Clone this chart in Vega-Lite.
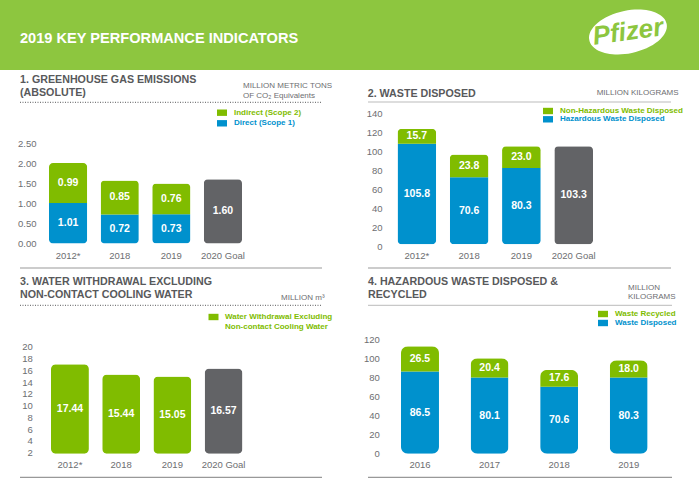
{
  "$schema": "https://vega.github.io/schema/vega-lite/v6.json",
  "padding": 0,
  "background": "white",
  "spacing": 0,
  "config": {
    "font": "Liberation Sans",
    "view": {"stroke": null},
    "axis": {"domain": false, "ticks": false, "grid": false, "title": null, "labelFont": "Liberation Sans", "labelFontSize": 9.5, "labelColor": "#6D6E71", "labelPadding": 0, "labelOverlap": false},
    "axisX": {"labelAngle": 0, "labelBaseline": "top"},
    "legend": {"title": null, "orient": "none", "padding": 0, "labelFont": "Liberation Sans", "labelFontSize": 8, "labelFontWeight": "bold", "symbolType": "M-1.25,-0.8H1.25V0.8H-1.25Z", "symbolSize": 64, "symbolStrokeWidth": 0, "labelOffset": 8}
  },
  "resolve": {"scale": {"color": "independent", "strokeDash": "independent"}},
  "vconcat": [
    {
      "width": 699,
      "height": 70,
      "view": {"fill": "#8DC63F", "stroke": null},
      "encoding": {
        "x": {"field": "item", "type": "nominal", "scale": {"domain": ["heading", "logo"], "range": [20, 628], "padding": 0}, "axis": null},
        "y": {"field": "item", "type": "nominal", "scale": {"domain": ["heading", "logo"], "range": [38.7, 32], "padding": 0}, "axis": null}
      },
      "layer": [
        {
          "data": {"values": [{"item": "heading", "text": "2019 KEY PERFORMANCE INDICATORS"}]},
          "mark": {"type": "text", "align": "left", "fontSize": 14.6, "fontWeight": "bold", "color": "white"},
          "encoding": {"text": {"field": "text"}}
        },
        {
          "data": {"values": [{"item": "logo"}]},
          "mark": {"type": "point", "filled": true, "opacity": 1, "color": "white", "size": 6241, "shape": "M-0.98,0.2A1,0.54,-12,1,1,0.98,-0.2A1,0.54,-12,1,1,-0.98,0.2Z"}
        },
        {
          "data": {"values": [{"item": "logo", "text": "Pfizer"}]},
          "mark": {"type": "text", "fontSize": 26, "fontWeight": "bold", "fontStyle": "italic", "angle": 352, "color": "#8DC63F"},
          "encoding": {"text": {"field": "text"}}
        }
      ]
    },
    {
      "spacing": 0,
      "resolve": {"scale": {"color": "independent", "strokeDash": "independent"}},
      "hconcat": [
        {
          "width": 350,
          "height": 200,
          "resolve": {"scale": {"x": "independent", "y": "independent"}},
          "layer": [
            {
              "data": {"values": [
                {"year": "2012*", "series": "Direct (Scope 1)", "rank": 1, "value": 1.01},
                {"year": "2012*", "series": "Indirect (Scope 2)", "rank": 2, "value": 0.99},
                {"year": "2018", "series": "Direct (Scope 1)", "rank": 1, "value": 0.72},
                {"year": "2018", "series": "Indirect (Scope 2)", "rank": 2, "value": 0.85},
                {"year": "2019", "series": "Direct (Scope 1)", "rank": 1, "value": 0.73},
                {"year": "2019", "series": "Indirect (Scope 2)", "rank": 2, "value": 0.76},
                {"year": "2020 Goal", "series": "2020 Goal", "rank": 1, "value": 1.6}
              ]},
              "encoding": {
                "x": {"field": "year", "type": "nominal", "scale": {"domain": ["2012*", "2018", "2019", "2020 Goal"], "range": [49, 242], "paddingInner": 0.26, "paddingOuter": 0}, "axis": {"orient": "bottom", "offset": -20}},
                "order": {"field": "rank", "type": "quantitative"}
              },
              "layer": [
                {
                  "mark": {"type": "bar",
                    "cornerRadiusTopLeft": {"expr": "datum.series == 'Direct (Scope 1)' ? 0 : 4"},
                    "cornerRadiusTopRight": {"expr": "datum.series == 'Direct (Scope 1)' ? 0 : 4"},
                    "cornerRadiusBottomLeft": {"expr": "datum.series == 'Indirect (Scope 2)' ? 0 : 4"},
                    "cornerRadiusBottomRight": {"expr": "datum.series == 'Indirect (Scope 2)' ? 0 : 4"}},
                  "encoding": {
                    "y": {"field": "value", "type": "quantitative", "stack": "zero", "scale": {"domain": [0, 2.5], "range": [173.5, 69]}, "axis": {"orient": "left", "offset": -36, "values": [0, 0.5, 1, 1.5, 2, 2.5], "format": ".2f"}},
                    "color": {"field": "series", "type": "nominal", "scale": {"domain": ["Indirect (Scope 2)", "Direct (Scope 1)", "2020 Goal"], "range": ["#80BC00", "#0091CD", "#626366"]},
                      "legend": {"values": ["Indirect (Scope 2)", "Direct (Scope 1)"], "legendX": 218, "legendY": 38.7, "rowPadding": 2.6,
                        "encode": {"labels": {"update": {"fill": {"signal": "datum.label == 'Direct (Scope 1)' ? '#0091CD' : '#80BC00'"}}}}}}
                  }
                },
                {
                  "mark": {"type": "text", "color": "white", "fontWeight": "bold", "fontSize": 10.5},
                  "encoding": {
                    "y": {"field": "value", "type": "quantitative", "stack": "zero", "bandPosition": 0.5, "axis": {"orient": "left", "offset": -36, "values": [0, 0.5, 1, 1.5, 2, 2.5], "format": ".2f"}},
                    "detail": {"field": "series"},
                    "text": {"field": "value", "type": "quantitative", "format": ".2f"}
                  }
                }
              ]
            },
            {
              "data": {"values": [{"block": "title", "line": "1", "text": "1. GREENHOUSE GAS EMISSIONS"}, {"block": "title", "line": "2", "text": "(ABSOLUTE)"}]},
              "mark": {"type": "text", "align": "left", "fontWeight": "bold", "fontSize": 10.7, "color": "#58595B"},
              "encoding": {
                "x": {"field": "block", "type": "nominal", "scale": {"domain": ["title", "unit"], "range": [20, 243], "padding": 0}, "axis": null},
                "y": {"field": "line", "type": "nominal", "scale": {"domain": ["1", "2"], "range": [10, 23.3], "padding": 0}, "axis": null},
                "text": {"field": "text"}
              }
            },
            {
              "data": {"values": [{"block": "unit", "line": "1", "text": "MILLION METRIC TONS"}, {"block": "unit", "line": "2", "text": "OF CO₂ Equivalents"}]},
              "mark": {"type": "text", "align": "left", "fontSize": 8, "color": "#6D6E71"},
              "encoding": {
                "x": {"field": "block", "type": "nominal", "scale": {"domain": ["title", "unit"], "range": [20, 243], "padding": 0}, "axis": null},
                "y": {"field": "line", "type": "nominal", "scale": {"domain": ["1", "2"], "range": [16, 26], "padding": 0}, "axis": null},
                "text": {"field": "text"}
              }
            },
            {
              "data": {"values": [{"line": "top", "from": "left", "to": "right"}, {"line": "bottom", "from": "left", "to": "right"}]},
              "mark": {"type": "rule", "stroke": {"expr": "datum.line == 'top' ? '#58595B' : '#999999'"}, "strokeWidth": {"expr": "datum.line == 'top' ? 1 : 1.2"}},
              "encoding": {
                "x": {"field": "from", "type": "nominal", "scale": {"type": "point", "domain": ["left", "right"], "range": [20, 322], "padding": 0}, "axis": null},
                "x2": {"field": "to"},
                "y": {"field": "line", "type": "nominal", "scale": {"type": "point", "domain": ["top", "bottom"], "range": [32.3, 198], "padding": 0}, "axis": null},
                "strokeDash": {"field": "line", "type": "nominal", "scale": {"domain": ["top", "bottom"], "range": [[1, 1.5], [1, 0]]}, "legend": null}
              }
            }
          ]
        },
        {
          "width": 349,
          "height": 200,
          "resolve": {"scale": {"x": "independent", "y": "independent"}},
          "layer": [
            {
              "data": {"values": [
                {"year": "2012*", "series": "Hazardous Waste Disposed", "rank": 1, "value": 105.8},
                {"year": "2012*", "series": "Non-Hazardous Waste Disposed", "rank": 2, "value": 15.7},
                {"year": "2018", "series": "Hazardous Waste Disposed", "rank": 1, "value": 70.6},
                {"year": "2018", "series": "Non-Hazardous Waste Disposed", "rank": 2, "value": 23.8},
                {"year": "2019", "series": "Hazardous Waste Disposed", "rank": 1, "value": 80.3},
                {"year": "2019", "series": "Non-Hazardous Waste Disposed", "rank": 2, "value": 23.0},
                {"year": "2020 Goal", "series": "2020 Goal", "rank": 1, "value": 103.3}
              ]},
              "encoding": {
                "x": {"field": "year", "type": "nominal", "scale": {"domain": ["2012*", "2018", "2019", "2020 Goal"], "range": [47.5, 243], "paddingInner": 0.26, "paddingOuter": 0}, "axis": {"orient": "bottom", "offset": -19.5}},
                "order": {"field": "rank", "type": "quantitative"}
              },
              "layer": [
                {
                  "mark": {"type": "bar",
                    "cornerRadiusTopLeft": {"expr": "datum.series == 'Hazardous Waste Disposed' ? 0 : 4"},
                    "cornerRadiusTopRight": {"expr": "datum.series == 'Hazardous Waste Disposed' ? 0 : 4"},
                    "cornerRadiusBottomLeft": {"expr": "datum.series == 'Non-Hazardous Waste Disposed' ? 0 : 4"},
                    "cornerRadiusBottomRight": {"expr": "datum.series == 'Non-Hazardous Waste Disposed' ? 0 : 4"}},
                  "encoding": {
                    "y": {"field": "value", "type": "quantitative", "stack": "zero", "scale": {"domain": [0, 140], "range": [174.3, 41.3]}, "axis": {"orient": "left", "offset": -32, "labelOffset": 2, "values": [0, 20, 40, 60, 80, 100, 120, 140]}},
                    "color": {"field": "series", "type": "nominal", "scale": {"domain": ["Non-Hazardous Waste Disposed", "Hazardous Waste Disposed", "2020 Goal"], "range": ["#80BC00", "#0091CD", "#626366"]},
                      "legend": {"values": ["Non-Hazardous Waste Disposed", "Hazardous Waste Disposed"], "legendX": 194, "legendY": 37, "rowPadding": 0.3,
                        "encode": {"labels": {"update": {"fill": {"signal": "datum.label == 'Hazardous Waste Disposed' ? '#0091CD' : '#80BC00'"}}}}}}
                  }
                },
                {
                  "mark": {"type": "text", "color": "white", "fontWeight": "bold", "fontSize": 10.5},
                  "encoding": {
                    "y": {"field": "value", "type": "quantitative", "stack": "zero", "bandPosition": 0.5, "axis": {"orient": "left", "offset": -32, "labelOffset": 2, "values": [0, 20, 40, 60, 80, 100, 120, 140]}},
                    "detail": {"field": "series"},
                    "text": {"field": "value", "type": "quantitative", "format": ".1f"}
                  }
                }
              ]
            },
            {
              "data": {"values": [{"block": "title", "line": "1", "text": "2. WASTE DISPOSED"}]},
              "mark": {"type": "text", "align": "left", "fontWeight": "bold", "fontSize": 10.7, "color": "#58595B"},
              "encoding": {
                "x": {"field": "block", "type": "nominal", "scale": {"domain": ["title", "unit"], "range": [17.7, 246.7], "padding": 0}, "axis": null},
                "y": {"field": "line", "type": "nominal", "scale": {"domain": ["1", "2"], "range": [24, 37], "padding": 0}, "axis": null},
                "text": {"field": "text"}
              }
            },
            {
              "data": {"values": [{"block": "unit", "line": "1", "text": "MILLION KILOGRAMS"}]},
              "mark": {"type": "text", "align": "left", "fontSize": 8, "color": "#6D6E71"},
              "encoding": {
                "x": {"field": "block", "type": "nominal", "scale": {"domain": ["title", "unit"], "range": [17.7, 246.7], "padding": 0}, "axis": null},
                "y": {"field": "line", "type": "nominal", "scale": {"domain": ["1", "2"], "range": [23, 33], "padding": 0}, "axis": null},
                "text": {"field": "text"}
              }
            },
            {
              "data": {"values": [{"line": "top", "from": "left", "to": "right"}, {"line": "bottom", "from": "left", "to": "right"}]},
              "mark": {"type": "rule", "stroke": {"expr": "datum.line == 'top' ? '#BBBBBB' : '#999999'"}, "strokeWidth": {"expr": "datum.line == 'top' ? 1 : 1.2"}},
              "encoding": {
                "x": {"field": "from", "type": "nominal", "scale": {"type": "point", "domain": ["left", "right"], "range": [18, 321], "padding": 0}, "axis": null},
                "x2": {"field": "to"},
                "y": {"field": "line", "type": "nominal", "scale": {"type": "point", "domain": ["top", "bottom"], "range": [32, 198], "padding": 0}, "axis": null}
              }
            }
          ]
        }
      ]
    },
    {
      "spacing": 0,
      "resolve": {"scale": {"color": "independent", "strokeDash": "independent"}},
      "hconcat": [
        {
          "width": 350,
          "height": 215,
          "resolve": {"scale": {"x": "independent", "y": "independent"}},
          "layer": [
            {
              "data": {"values": [
                {"year": "2012*", "series": "Water Withdrawal Excluding|Non-contact Cooling Water", "value": 17.44},
                {"year": "2018", "series": "Water Withdrawal Excluding|Non-contact Cooling Water", "value": 15.44},
                {"year": "2019", "series": "Water Withdrawal Excluding|Non-contact Cooling Water", "value": 15.05},
                {"year": "2020 Goal", "series": "2020 Goal", "value": 16.57}
              ]},
              "encoding": {
                "x": {"field": "year", "type": "nominal", "scale": {"domain": ["2012*", "2018", "2019", "2020 Goal"], "range": [51, 242.5], "paddingInner": 0.26, "paddingOuter": 0}, "axis": {"orient": "bottom", "offset": -25.5}}
              },
              "layer": [
                {
                  "mark": {"type": "bar", "cornerRadius": 5},
                  "encoding": {
                    "y": {"field": "value", "type": "quantitative", "stack": "zero", "scale": {"domain": [0, 20], "range": [183.7, 81]}, "axis": null},
                    "color": {"field": "series", "type": "nominal", "scale": {"domain": ["Water Withdrawal Excluding|Non-contact Cooling Water", "2020 Goal"], "range": ["#80BC00", "#626366"]},
                      "legend": {"values": ["Water Withdrawal Excluding|Non-contact Cooling Water"], "legendX": 209.5, "legendY": 43, "labelOffset": 7.5, "labelExpr": "split(datum.label, '|')", "labelBaseline": "top",
                        "encode": {"labels": {"update": {"fill": {"value": "#80BC00"}, "dy": {"value": -4}}}}}}
                  }
                },
                {
                  "mark": {"type": "text", "color": "white", "fontWeight": "bold", "fontSize": 10.5},
                  "encoding": {
                    "y": {"field": "value", "type": "quantitative", "stack": "zero", "bandPosition": 0.5, "axis": null},
                    "detail": {"field": "series"},
                    "text": {"field": "value", "type": "quantitative", "format": ".2f"}
                  }
                }
              ]
            },
            {
              "data": {"values": [{"tick": 2}, {"tick": 20}]},
              "mark": {"type": "point", "opacity": 0},
              "encoding": {
                "y": {"field": "tick", "type": "quantitative", "scale": {"domain": [2, 20], "range": [182.7, 76.7]}, "axis": {"orient": "left", "offset": -32.3, "values": [2, 4, 6, 8, 10, 12, 14, 16, 18, 20]}}
              }
            },
            {
              "data": {"values": [{"block": "title", "line": "1", "text": "3. WATER WITHDRAWAL EXCLUDING"}, {"block": "title", "line": "2", "text": "NON-CONTACT COOLING WATER"}]},
              "mark": {"type": "text", "align": "left", "fontWeight": "bold", "fontSize": 10.7, "color": "#58595B"},
              "encoding": {
                "x": {"field": "block", "type": "nominal", "scale": {"domain": ["title", "unit"], "range": [20, 281], "padding": 0}, "axis": null},
                "y": {"field": "line", "type": "nominal", "scale": {"domain": ["1", "2"], "range": [12, 25], "padding": 0}, "axis": null},
                "text": {"field": "text"}
              }
            },
            {
              "data": {"values": [{"block": "unit", "line": "1", "text": "MILLION m³"}]},
              "mark": {"type": "text", "align": "left", "fontSize": 8, "color": "#6D6E71"},
              "encoding": {
                "x": {"field": "block", "type": "nominal", "scale": {"domain": ["title", "unit"], "range": [20, 281], "padding": 0}, "axis": null},
                "y": {"field": "line", "type": "nominal", "scale": {"domain": ["1", "2"], "range": [28, 38], "padding": 0}, "axis": null},
                "text": {"field": "text"}
              }
            },
            {
              "data": {"values": [{"line": "top", "from": "left", "to": "right"}, {"line": "bottom", "from": "left", "to": "right"}]},
              "mark": {"type": "rule", "stroke": {"expr": "datum.line == 'top' ? '#58595B' : '#999999'"}, "strokeWidth": {"expr": "datum.line == 'top' ? 1 : 1.2"}},
              "encoding": {
                "x": {"field": "from", "type": "nominal", "scale": {"type": "point", "domain": ["left", "right"], "range": [20, 322], "padding": 0}, "axis": null},
                "x2": {"field": "to"},
                "y": {"field": "line", "type": "nominal", "scale": {"type": "point", "domain": ["top", "bottom"], "range": [35.3, 207.3], "padding": 0}, "axis": null},
                "strokeDash": {"field": "line", "type": "nominal", "scale": {"domain": ["top", "bottom"], "range": [[1, 1.5], [1, 0]]}, "legend": null}
              }
            }
          ]
        },
        {
          "width": 349,
          "height": 215,
          "resolve": {"scale": {"x": "independent", "y": "independent"}},
          "layer": [
            {
              "data": {"values": [
                {"year": "2016", "series": "Waste Disposed", "rank": 1, "value": 86.5},
                {"year": "2016", "series": "Waste Recycled", "rank": 2, "value": 26.5},
                {"year": "2017", "series": "Waste Disposed", "rank": 1, "value": 80.1},
                {"year": "2017", "series": "Waste Recycled", "rank": 2, "value": 20.4},
                {"year": "2018", "series": "Waste Disposed", "rank": 1, "value": 70.6},
                {"year": "2018", "series": "Waste Recycled", "rank": 2, "value": 17.6},
                {"year": "2019", "series": "Waste Disposed", "rank": 1, "value": 80.3},
                {"year": "2019", "series": "Waste Recycled", "rank": 2, "value": 18.0}
              ]},
              "encoding": {
                "x": {"field": "year", "type": "nominal", "scale": {"domain": ["2016", "2017", "2018", "2019"], "range": [51, 297.7], "paddingInner": 0.454, "paddingOuter": 0}, "axis": {"orient": "bottom", "offset": -25.5}},
                "order": {"field": "rank", "type": "quantitative"}
              },
              "layer": [
                {
                  "mark": {"type": "bar",
                    "cornerRadiusTopLeft": {"expr": "datum.series == 'Waste Disposed' ? 0 : 7"},
                    "cornerRadiusTopRight": {"expr": "datum.series == 'Waste Disposed' ? 0 : 7"},
                    "cornerRadiusBottomLeft": {"expr": "datum.series == 'Waste Recycled' ? 0 : 7"},
                    "cornerRadiusBottomRight": {"expr": "datum.series == 'Waste Recycled' ? 0 : 7"}},
                  "encoding": {
                    "y": {"field": "value", "type": "quantitative", "stack": "zero", "scale": {"domain": [0, 120], "range": [183.7, 69.7]}, "axis": {"orient": "left", "offset": -29.3, "values": [0, 20, 40, 60, 80, 100, 120]}},
                    "color": {"field": "series", "type": "nominal", "scale": {"domain": ["Waste Recycled", "Waste Disposed"], "range": ["#80BC00", "#0091CD"]},
                      "legend": {"values": ["Waste Recycled", "Waste Disposed"], "legendX": 249, "legendY": 40, "rowPadding": 1,
                        "encode": {"labels": {"update": {"fill": {"signal": "datum.label == 'Waste Disposed' ? '#0091CD' : '#80BC00'"}}}}}}
                  }
                },
                {
                  "mark": {"type": "text", "color": "white", "fontWeight": "bold", "fontSize": 10.5},
                  "encoding": {
                    "y": {"field": "value", "type": "quantitative", "stack": "zero", "bandPosition": 0.5, "axis": {"orient": "left", "offset": -29.3, "values": [0, 20, 40, 60, 80, 100, 120]}},
                    "detail": {"field": "series"},
                    "text": {"field": "value", "type": "quantitative", "format": ".1f"}
                  }
                }
              ]
            },
            {
              "data": {"values": [{"block": "title", "line": "1", "text": "4. HAZARDOUS WASTE DISPOSED &"}, {"block": "title", "line": "2", "text": "RECYCLED"}]},
              "mark": {"type": "text", "align": "left", "fontWeight": "bold", "fontSize": 10.7, "color": "#58595B"},
              "encoding": {
                "x": {"field": "block", "type": "nominal", "scale": {"domain": ["title", "unit"], "range": [18, 278], "padding": 0}, "axis": null},
                "y": {"field": "line", "type": "nominal", "scale": {"domain": ["1", "2"], "range": [12, 25], "padding": 0}, "axis": null},
                "text": {"field": "text"}
              }
            },
            {
              "data": {"values": [{"block": "unit", "line": "1", "text": "MILLION"}, {"block": "unit", "line": "2", "text": "KILOGRAMS"}]},
              "mark": {"type": "text", "align": "left", "fontSize": 8, "color": "#6D6E71"},
              "encoding": {
                "x": {"field": "block", "type": "nominal", "scale": {"domain": ["title", "unit"], "range": [18, 278], "padding": 0}, "axis": null},
                "y": {"field": "line", "type": "nominal", "scale": {"domain": ["1", "2"], "range": [18, 27], "padding": 0}, "axis": null},
                "text": {"field": "text"}
              }
            },
            {
              "data": {"values": [{"line": "top", "from": "left", "to": "right"}, {"line": "bottom", "from": "left", "to": "right"}]},
              "mark": {"type": "rule", "stroke": {"expr": "datum.line == 'top' ? '#BBBBBB' : '#999999'"}, "strokeWidth": {"expr": "datum.line == 'top' ? 1 : 1.2"}},
              "encoding": {
                "x": {"field": "from", "type": "nominal", "scale": {"type": "point", "domain": ["left", "right"], "range": [18, 322], "padding": 0}, "axis": null},
                "x2": {"field": "to"},
                "y": {"field": "line", "type": "nominal", "scale": {"type": "point", "domain": ["top", "bottom"], "range": [35.3, 207.3], "padding": 0}, "axis": null}
              }
            }
          ]
        }
      ]
    }
  ]
}
